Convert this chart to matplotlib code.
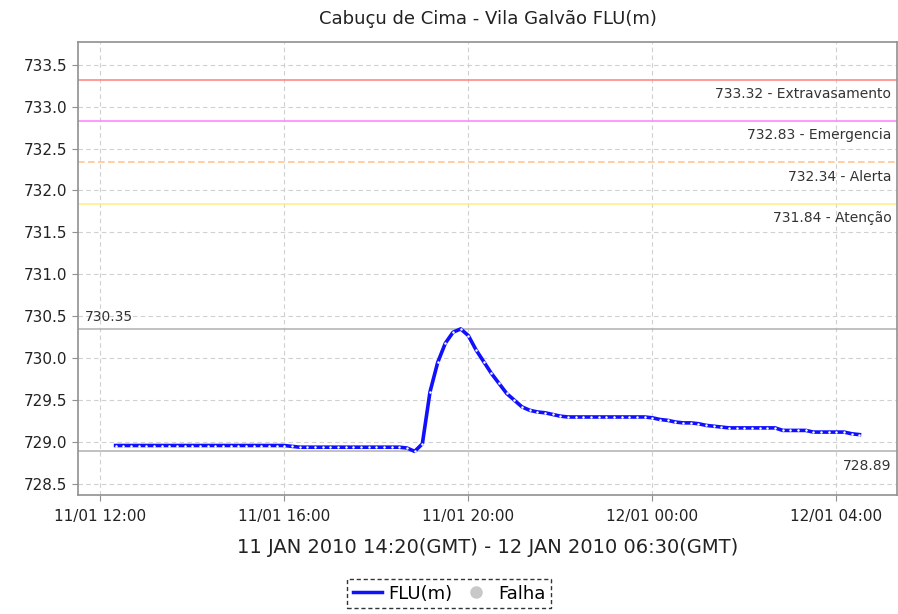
import numpy as np
import pandas as pd
import matplotlib
matplotlib.use("Agg")
import matplotlib.pyplot as plt
import matplotlib.dates as mdates
from matplotlib.lines import Line2D

# readings every 10 minutes, local time 11/01 12:20 -> 12/01 04:30
START = "2010-01-11 12:20"
flu = [
    728.96, 728.96, 728.96, 728.96, 728.96, 728.96, 728.96, 728.96,  # 12:20-13:30
    728.96, 728.96, 728.96, 728.96, 728.96, 728.96, 728.96, 728.96,  # 13:40-14:50
    728.96, 728.96, 728.96, 728.96, 728.96, 728.96, 728.96, 728.95,  # 15:00-16:10
    728.94, 728.94, 728.94, 728.94, 728.94, 728.94, 728.94, 728.94,  # 16:20-17:30
    728.94, 728.94, 728.94, 728.94, 728.94, 728.94, 728.93, 728.89,  # 17:40-18:50
    728.98, 729.60, 729.95, 730.18, 730.31, 730.35, 730.27, 730.10,  # 19:00-20:10
    729.96, 729.82, 729.70, 729.58, 729.50, 729.42, 729.38, 729.36,  # 20:20-21:30
    729.35, 729.33, 729.31, 729.30, 729.30, 729.30, 729.30, 729.30,  # 21:40-22:50
    729.30, 729.30, 729.30, 729.30, 729.30, 729.30, 729.29, 729.27,  # 23:00-00:10
    729.26, 729.24, 729.23, 729.23, 729.22, 729.20, 729.19, 729.18,  # 00:20-01:30
    729.17, 729.17, 729.17, 729.17, 729.17, 729.17, 729.17, 729.14,  # 01:40-02:50
    729.14, 729.14, 729.14, 729.12, 729.12, 729.12, 729.12, 729.12,  # 03:00-04:10
    729.10, 729.09,                                                  # 04:20-04:30
]
times = pd.date_range(START, periods=len(flu), freq="10min")

limit_values = [733.32, 732.83, 732.34, 731.84]
limit_names = ["Extravasamento", "Emergencia", "Alerta", "Atenção"]
limit_colors = ["#ff8a8a", "#ff88ff", "#ffc890", "#fff08a"]
limit_styles = ["-", "-", (0, (4, 2)), "-"]

max_val = 730.35
min_val = 728.89

fig = plt.figure(figsize=(8.98, 6.14), dpi=100)
ax = fig.add_axes([0.0869, 0.1938, 0.9120, 0.7378])

for v, name, c, ls in zip(limit_values, limit_names, limit_colors, limit_styles):
    ax.axhline(v, color=c, lw=1.2, ls=ls, zorder=2)
    ax.text(0.993, v - 0.09, f"{v:.2f} - {name}", transform=ax.get_yaxis_transform(),
            ha="right", va="top", fontsize=10, color="#333333")

ax.axhline(max_val, color="#b0b0b0", lw=1.1, zorder=2)
ax.text(0.008, max_val + 0.06, f"{max_val:.2f}", transform=ax.get_yaxis_transform(),
        ha="left", va="bottom", fontsize=10, color="#333333")
ax.axhline(min_val, color="#b0b0b0", lw=1.1, zorder=2)
ax.text(0.993, min_val - 0.09, f"{min_val:.2f}", transform=ax.get_yaxis_transform(),
        ha="right", va="top", fontsize=10, color="#333333")

ax.plot(times, flu, color="#1010ff", lw=2.6, zorder=4)
ax.plot(times, flu, ls="none", marker=".", ms=1.6, color="white", zorder=5)

ax.set_ylim(728.37, 733.77)
ax.set_yticks([728.5, 729.0, 729.5, 730.0, 730.5, 731.0, 731.5, 732.0, 732.5, 733.0, 733.5])
ax.yaxis.set_major_formatter(matplotlib.ticker.FormatStrFormatter("%.1f"))

x0 = pd.Timestamp("2010-01-11 11:31")
x1 = pd.Timestamp("2010-01-12 05:19")
ax.set_xlim(x0, x1)
ax.xaxis.set_major_locator(mdates.HourLocator(byhour=[0, 4, 8, 12, 16, 20]))
ax.xaxis.set_major_formatter(mdates.DateFormatter("%d/%m %H:%M"))

ax.grid(True, color="#d0d0d0", ls=(0, (4, 3)), lw=0.8)
ax.set_axisbelow(True)
for s in ["left", "bottom", "top", "right"]:
    ax.spines[s].set_color("#909090")
    ax.spines[s].set_linewidth(1.2)
ax.tick_params(axis="both", colors="#909090", labelcolor="#222222", labelsize=11,
               length=4, direction="out")
ax.tick_params(axis="x", pad=6)

ax.set_title("Cabuçu de Cima - Vila Galvão FLU(m)", fontsize=13, color="#222222", pad=13)
ax.set_xlabel("11 JAN 2010 14:20(GMT) - 12 JAN 2010 06:30(GMT)", fontsize=14,
              color="#222222", labelpad=10)

handles = [Line2D([], [], color="#1010ff", lw=2.5),
           Line2D([], [], ls="none", marker="o", ms=8, color="#c8c8c8")]
leg = fig.legend(handles, ["FLU(m)", "Falha"], loc="center", bbox_to_anchor=(0.5, 0.033),
                 ncol=2, fontsize=13, frameon=True, fancybox=False, handlelength=1.6,
                 handletextpad=0.4, columnspacing=0.5, borderpad=0.3)
leg.get_frame().set_edgecolor("black")
leg.get_frame().set_linestyle((0, (3, 2)))
leg.get_frame().set_linewidth(1.0)

fig.savefig("out.png", dpi=100)
